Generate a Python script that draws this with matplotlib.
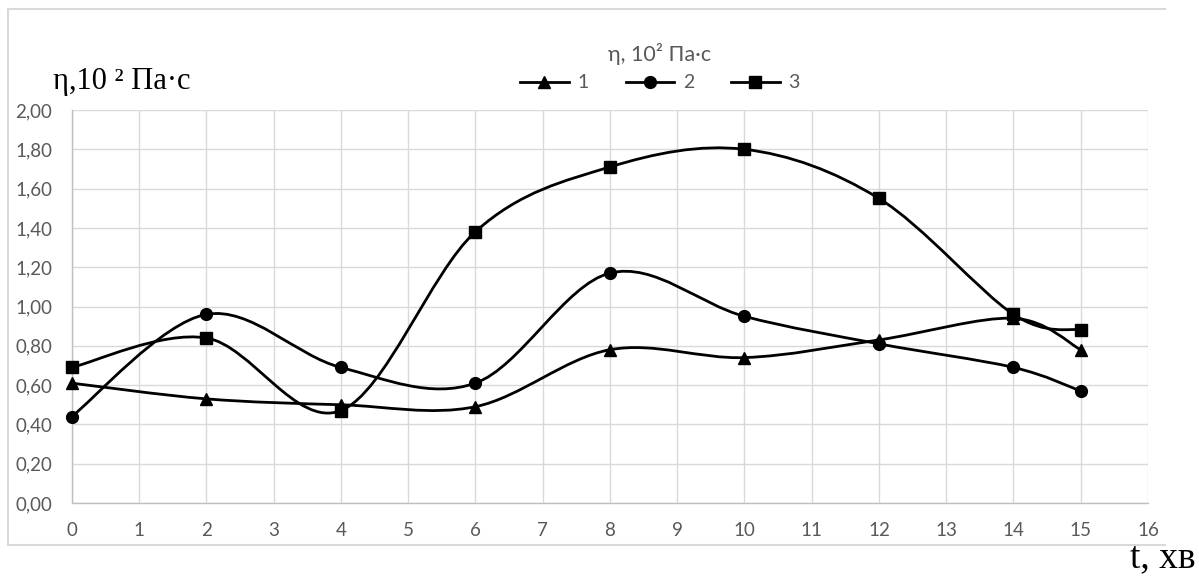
import numpy as np
import matplotlib
matplotlib.use("Agg")
import matplotlib.pyplot as plt
from matplotlib.path import Path
from matplotlib.patches import PathPatch
from matplotlib.lines import Line2D

# ---- data ----
t = [0, 2, 4, 6, 8, 10, 12, 14, 15]
series_labels = ["1", "2", "3"]
s1 = [0.61, 0.53, 0.50, 0.49, 0.78, 0.74, 0.83, 0.94, 0.78]
s2 = [0.44, 0.96, 0.69, 0.61, 1.17, 0.95, 0.81, 0.69, 0.57]
s3 = [0.69, 0.84, 0.47, 1.38, 1.71, 1.80, 1.55, 0.96, 0.88]
x_ticks = list(range(0, 17))
y_ticks = [0.0, 0.2, 0.4, 0.6, 0.8, 1.0, 1.2, 1.4, 1.6, 1.8, 2.0]
y_tick_labels = ["0,00", "0,20", "0,40", "0,60", "0,80", "1,00", "1,20", "1,40", "1,60", "1,80", "2,00"]
legend_title = "η, 10² Па·с"
y_label = "η,10 ² Па·с"
x_label = "t, хв"

W, H = 1199, 579
fig = plt.figure(figsize=(W / 100, H / 100), dpi=100)
ax = fig.add_axes([71.7 / W, 1 - 503 / H, (1148 - 71.7) / W, (503 - 110) / H])
ax.set_xlim(0, 16)
ax.set_ylim(0, 2.0)

grid_c = "#D9D9D9"
text_c = "#595959"
ax.set_xticks(x_ticks)
ax.set_xticklabels([str(v) for v in x_ticks])
ax.set_yticks(y_ticks)
ax.set_yticklabels(y_tick_labels)
ax.grid(True, color=grid_c, linewidth=1.0)
ax.set_axisbelow(True)
for side in ["top", "right"]:
    ax.spines[side].set_visible(False)
for side in ["left", "bottom"]:
    ax.spines[side].set_color("#BFBFBF")
    ax.spines[side].set_linewidth(1.0)
ax.tick_params(length=0, labelsize=13.5, labelcolor=text_c)
ax.tick_params(axis="x", pad=14)
ax.tick_params(axis="y", pad=14)
for lab in ax.get_xticklabels() + ax.get_yticklabels():
    lab.set_fontfamily("Lato")


def smooth_path(xs, ys):
    pts = ax.transData.transform(np.column_stack([xs, ys]))
    n = len(pts)
    verts = [pts[0]]
    codes = [Path.MOVETO]
    for i in range(n - 1):
        p0 = pts[i - 1] if i > 0 else pts[i]
        p1 = pts[i]
        p2 = pts[i + 1]
        p3 = pts[i + 2] if i + 2 < n else pts[i + 1]
        c1 = p1 + (p2 - p0) / 6.0
        c2 = p2 - (p3 - p1) / 6.0
        verts += [c1, c2, p2]
        codes += [Path.CURVE4] * 3
    verts = ax.transData.inverted().transform(np.array(verts))
    return Path(verts, codes)


markers = ["^", "o", "s"]
msizes = [8.5, 8.5, 8.5]
lw = 2.0
for ys, m, ms in zip([s1, s2, s3], markers, msizes):
    ax.add_patch(PathPatch(smooth_path(t, ys), fill=False, edgecolor="black", linewidth=lw, zorder=3))
    ax.plot(t, ys, linestyle="none", marker=m, markersize=ms, color="black", zorder=4, clip_on=False)

handles = [Line2D([], [], color="black", linewidth=lw, marker=m, markersize=ms)
           for m, ms in zip(markers, msizes)]
leg = fig.legend(handles, series_labels, loc="center", bbox_to_anchor=(660 / W, 1 - 67 / H),
                 ncol=3, frameon=False, title=legend_title,
                 prop={"family": "Lato", "size": 14}, handlelength=2.5, handletextpad=0.45,
                 columnspacing=1.9, borderaxespad=0)
leg.get_title().set_fontfamily("Lato")
leg.get_title().set_fontsize(15.5)
leg.get_title().set_color(text_c)
for txt in leg.get_texts():
    txt.set_color(text_c)

# outer chart frame
fc = "#D9D9D9"
fig.add_artist(Line2D([8 / W, 1165 / W], [1 - 9 / H, 1 - 9 / H], color=fc, linewidth=1.5, transform=fig.transFigure))
fig.add_artist(Line2D([8 / W, 8 / W], [1 - 9 / H, 1 - 545 / H], color=fc, linewidth=1.5, transform=fig.transFigure))
fig.add_artist(Line2D([8 / W, 1165 / W], [1 - 545 / H, 1 - 545 / H], color=fc, linewidth=1.5, transform=fig.transFigure))

serif = ["Liberation Serif", "DejaVu Serif"]
fig.text(53 / W, 1 - 82 / H, y_label, fontfamily=serif, fontsize=22,
         color="black", ha="left", va="center")
fig.text(1196 / W, 1 - 567 / H, x_label, fontfamily=serif, fontsize=27,
         color="black", ha="right", va="baseline")

fig.savefig("out.png", dpi=100, facecolor="white")
